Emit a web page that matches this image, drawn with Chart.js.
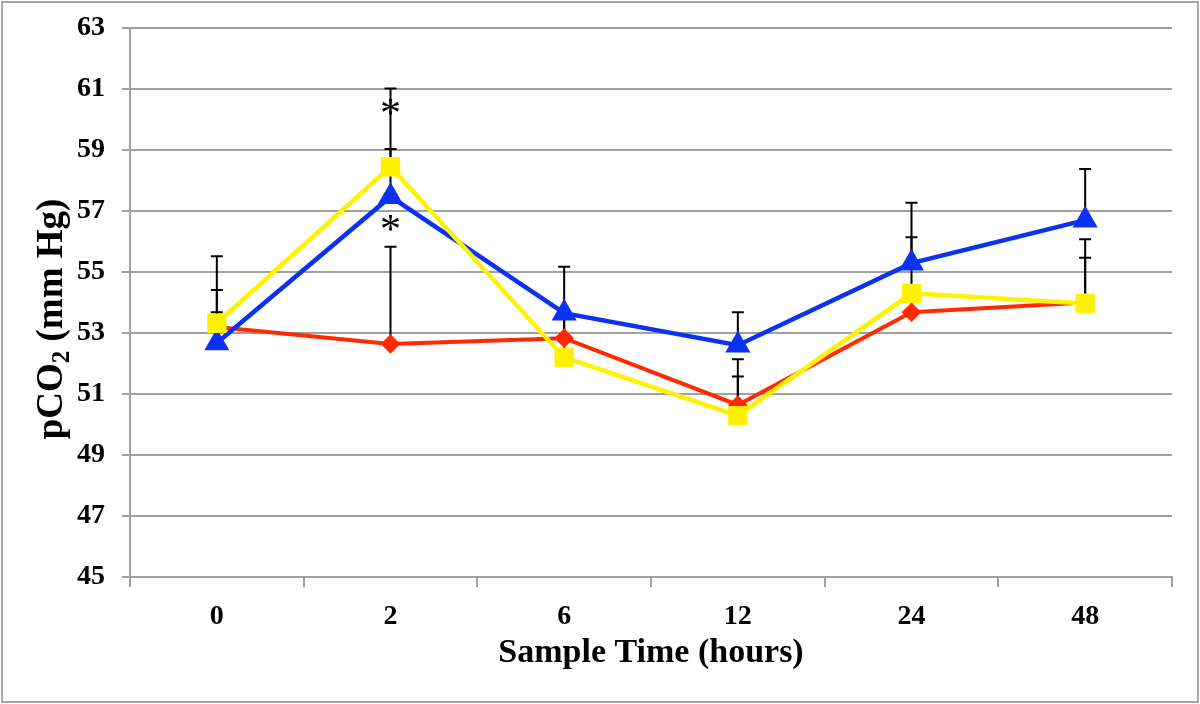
<!DOCTYPE html>
<html>
<head>
<meta charset="utf-8">
<script src="https://cdn.jsdelivr.net/npm/chart.js@4/dist/chart.umd.min.js"></script>
<style>
  body { margin: 0; background: #fff; }
  #wrap { position: relative; width: 1200px; height: 704px; }
  #frame { position: absolute; left: 1px; top: 1px; width: 1198px; height: 702px;
           box-sizing: border-box; border: 2px solid #a6a6a6; pointer-events: none; }
</style>
</head>
<body>
<div id="wrap">
  <canvas id="pco2Chart" width="1200" height="704"></canvas>
  <div id="frame"></div>
</div>
<script>
// Sample times (hours) and mean pCO2 per group
const categories = ['0', '2', '6', '12', '24', '48'];
const redValues = [53.2, 52.64, 52.83, 50.64, 53.68, 54.0];
const yellowValues = [53.32, 58.45, 52.2, 50.29, 54.3, 53.97];
const blueValues = [52.67, 57.47, 53.65, 52.6, 55.29, 56.7];

// upper error bars (SD)
const redErr = [0.48, 3.19, 0.8, 0.93, 0.6, 1.47];
const yellowErr = [1.09, 0.58, 1.45, 1.85, 1.84, 2.1];
const blueErr = [2.85, 3.55, 1.52, 1.08, 1.98, 1.68];

const yTicks = [45, 47, 49, 51, 53, 55, 57, 59, 61, 63];

// significance marks
const starCats = ['2', '2'];
const starValues = [60.42, 56.6];

const serif = '"Liberation Serif", "Times New Roman", serif';

const errorBars = {
  id: 'errorBars',
  beforeDatasetsDraw(chart) {
    const { ctx, scales: { x, y } } = chart;
    ctx.save();
    ctx.strokeStyle = '#000';
    ctx.lineWidth = 2;
    chart.data.datasets.forEach(ds => {
      ds.data.forEach((v, i) => {
        const px = x.getPixelForValue(i);
        const y0 = y.getPixelForValue(v);
        const y1 = y.getPixelForValue(v + ds.errUp[i]);
        ctx.beginPath();
        ctx.moveTo(px, y0);
        ctx.lineTo(px, y1);
        ctx.moveTo(px - 6, y1);
        ctx.lineTo(px + 6, y1);
        ctx.stroke();
      });
    });
    ctx.restore();
  },
  afterDatasetsDraw(chart) {
    const { ctx, scales: { x, y } } = chart;
    ctx.save();
    ctx.fillStyle = '#000';
    ctx.font = '42px ' + serif;
    ctx.textAlign = 'center';
    ctx.textBaseline = 'alphabetic';
    starCats.forEach((c, i) => {
      const m = ctx.measureText('*');
      const px = x.getPixelForValue(categories.indexOf(c));
      const py = y.getPixelForValue(starValues[i]);
      const off = (m.actualBoundingBoxAscent - m.actualBoundingBoxDescent) / 2;
      ctx.fillText('*', px, py + off);
    });
    ctx.restore();
  }
};

const axisTitles = {
  id: 'axisTitles',
  afterDraw(chart) {
    const { ctx, chartArea } = chart;
    ctx.save();
    ctx.fillStyle = '#000';
    ctx.textBaseline = 'alphabetic';
    // x title
    ctx.font = 'bold 34px ' + serif;
    ctx.textAlign = 'center';
    ctx.fillText('Sample Time (hours)', (chartArea.left + chartArea.right) / 2, 662);
    // y title with subscript
    const big = 'bold 37px ' + serif;
    const small = 'bold 25px ' + serif;
    ctx.font = big;
    const w1 = ctx.measureText('pCO').width;
    const w3 = ctx.measureText(' (mm Hg)').width;
    ctx.font = small;
    const w2 = ctx.measureText('2').width;
    const total = w1 + w2 + w3;
    ctx.translate(62, 319);
    ctx.rotate(-Math.PI / 2);
    ctx.textAlign = 'left';
    let sx = -total / 2;
    ctx.font = big;
    ctx.fillText('pCO', sx, 0);
    sx += w1;
    ctx.font = small;
    ctx.fillText('2', sx, 7);
    sx += w2;
    ctx.font = big;
    ctx.fillText(' (mm Hg)', sx, 0);
    ctx.restore();
  }
};

new Chart(document.getElementById('pco2Chart'), {
  type: 'line',
  data: {
    labels: categories,
    datasets: [
      {
        label: 'Yellow', data: yellowValues, errUp: yellowErr,
        borderColor: '#FFF200', backgroundColor: '#FFF200',
        borderWidth: 4.5, pointStyle: 'rect', pointRadius: 10.5, pointHoverRadius: 10.5,
        tension: 0, order: 1
      },
      {
        label: 'Blue', data: blueValues, errUp: blueErr,
        borderColor: '#0A32F0', backgroundColor: '#0A32F0',
        borderWidth: 4.5, pointStyle: 'triangle', pointRadius: 10, pointHoverRadius: 10,
        tension: 0, order: 2
      },
      {
        label: 'Red', data: redValues, errUp: redErr,
        borderColor: '#FF2A00', backgroundColor: '#FF2A00',
        borderWidth: 4, pointStyle: 'rectRot', pointRadius: 7, pointHoverRadius: 7,
        tension: 0, order: 3
      }
    ]
  },
  options: {
    responsive: false,
    animation: false,
    devicePixelRatio: 1,
    layout: { padding: { left: 0, top: 28, right: 28, bottom: 0 } },
    plugins: { legend: { display: false }, tooltip: { enabled: false } },
    scales: {
      x: {
        offset: true,
        grid: { offset: true, drawOnChartArea: false, color: '#a0a0a0', lineWidth: 2, tickLength: 10 },
        border: { color: '#a0a0a0', width: 2 },
        ticks: { color: '#000', font: { family: serif, size: 28, weight: 'bold' }, padding: 13 },
        afterFit(scale) { scale.height = 127; scale.paddingLeft = 0; scale.paddingRight = 0; }
      },
      y: {
        min: 45, max: 63,
        afterBuildTicks(scale) { scale.ticks = yTicks.map(v => ({ value: v })); },
        grid: { color: '#a0a0a0', lineWidth: 2, tickLength: 8 },
        border: { color: '#a0a0a0', width: 2 },
        ticks: { color: '#000', font: { family: serif, size: 28, weight: 'bold' }, padding: 17 },
        afterFit(scale) { scale.width = 130; scale.paddingTop = 0; scale.paddingBottom = 0; }
      }
    }
  },
  plugins: [errorBars, axisTitles]
});
</script>
</body>
</html>
